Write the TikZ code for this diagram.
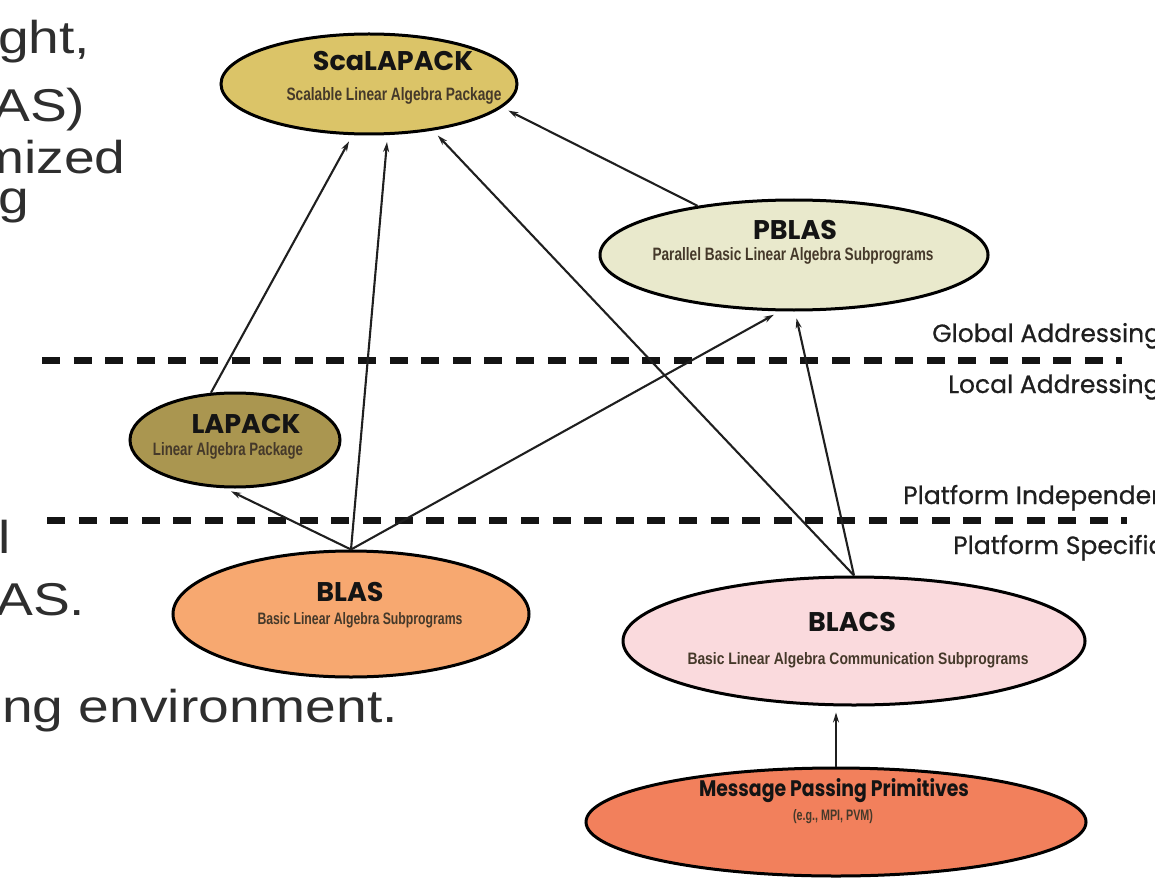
\documentclass[tikz,border=0pt]{standalone}
\usepackage{fontspec}
\setmainfont{Liberation Sans}
\newfontfamily\geo{Poppins}
\newfontfamily\geomed{Poppins}[FakeBold=0.7]
\usetikzlibrary{shapes.geometric,arrows.meta}

\definecolor{scalfill}{HTML}{DBC468}
\definecolor{pblasfill}{HTML}{E9E9CC}
\definecolor{lapackfill}{HTML}{AA9650}
\definecolor{blasfill}{HTML}{F7A870}
\definecolor{blacsfill}{HTML}{FADADD}
\definecolor{mppfill}{HTML}{F2805C}
\definecolor{subcol}{HTML}{45392A}
\definecolor{slidetext}{HTML}{2E2E2E}

% condensed subtitle squeezed into a given width and height
\newcommand{\subtxt}[3]{\resizebox{#1pt}{#2pt}{\bfseries #3}}
% wide slide lettering
\newcommand{\wide}[1]{\scalebox{1.2}[1]{#1}}

\begin{document}
\begin{tikzpicture}[x=1pt,y=-1pt,
  lib/.style={ellipse, draw=black, line width=3pt, inner sep=0pt},
  ttl/.style={font=\geo\bfseries\fontsize{27}{27}\selectfont, text=black!92, inner sep=0pt},
  sub/.style={text=subcol, inner sep=0pt},
  dep/.style={-{Stealth[length=10pt,width=6pt]}, line width=2.1pt, draw=black!88, shorten >=7pt},
  layer/.style={line width=7pt, draw=black!92, dash pattern=on 18pt off 13.6pt},
  side/.style={font=\geomed\fontsize{25}{25}\selectfont, text=black!88, anchor=base west, inner sep=0pt},
  slide/.style={font=\fontsize{46}{46}\selectfont, text=slidetext, anchor=base west, inner sep=0pt}]
\useasboundingbox (0,0) rectangle (1155,877);

% slide text running behind the diagram
\node[slide] (s1) at (-2,54)   {\wide{ght,}};
\node[slide] (s2) at (-7,122)  {\wide{AS)}};
\node[slide] (s3) at (-22,174) {\wide{mized}};
\node[slide] (s4) at (-2,214)  {\wide{g}};
\node[slide] (s5) at (-2,553)  {\wide{l}};
\node[slide] (s6) at (-4,615)  {\wide{AS.}};
\node[slide] (s7) at (2,722)   {\wide{ng environment.}};

% layer boundaries
\coordinate (g1) at (42,360);  \coordinate (g2) at (1122,360);
\coordinate (p1) at (47,520);  \coordinate (p2) at (1127,520);
\draw[layer] (g1) -- (g2);
\draw[layer] (p1) -- (p2);
\node[side] (glob) at (932,342) {Global Addressing};
\node[side] (loc)  at (948,393) {Local Addressing};
\node[side] (pind) at (903,504) {Platform Independent};
\node[side] (pspe) at (953,554) {Platform Specific};

% libraries
\node[lib, fill=scalfill,   minimum width=296pt, minimum height=100pt] (scal)   at (369,84)  {};
\node[lib, fill=pblasfill,  minimum width=388pt, minimum height=110pt] (pblas)  at (794,255) {};
\node[lib, fill=lapackfill, minimum width=210pt, minimum height=94pt]  (lapack) at (235,440) {};
\node[lib, fill=blasfill,   minimum width=356pt, minimum height=126pt] (blas)   at (351,614) {};
\node[lib, fill=blacsfill,  minimum width=462pt, minimum height=128pt] (blacs)  at (854,641) {};
\node[lib, fill=mppfill,    minimum width=500pt, minimum height=108pt] (mpp)    at (836,822) {};

% dependencies
\draw[dep] (lapack.117) -- (scal.252);
\draw[dep] (blas.north) -- (scal.290);
\draw[dep] (blacs.north) -- (scal.324);
\draw[dep] (pblas.153) -- (scal.350);
\draw[dep] (blas.north) -- (pblas.256);
\draw[dep] (blacs.north) -- (pblas.271);
\draw[dep] (blas.north) -- (lapack.258);
\draw[dep, shorten >=6pt] (mpp.north) -- (blacs.south -| mpp.north);

% labels
\node[ttl] (scalT) at (393,61) {ScaLAPACK};
\node[sub] (scalS) at (394,96) {\subtxt{215}{13}{Scalable Linear Algebra Package}};
\node[ttl] (pblasT) at (795,230) {PBLAS};
\node[sub] (pblasS) at (793,256) {\subtxt{281}{13}{Parallel Basic Linear Algebra Subprograms}};
\node[ttl] (lapackT) at (246,424) {LAPACK};
\node[sub] (lapackS) at (228,451) {\subtxt{150}{13}{Linear Algebra Package}};
\node[ttl] (blasT) at (350,592) {BLAS};
\node[sub] (blasS) at (360,620) {\subtxt{205}{12}{Basic Linear Algebra Subprograms}};
\node[ttl] (blacsT) at (852,622) {BLACS};
\node[sub] (blacsS) at (858,660) {\subtxt{341}{12}{Basic Linear Algebra Communication Subprograms}};
\node[ttl] (mppT) at (834,791) {\resizebox{270pt}{18pt}{Message Passing Primitives}};
\node[sub] (mppS) at (833,817) {\subtxt{80}{11}{(e.g., MPI, PVM)}};
\end{tikzpicture}
\end{document}
